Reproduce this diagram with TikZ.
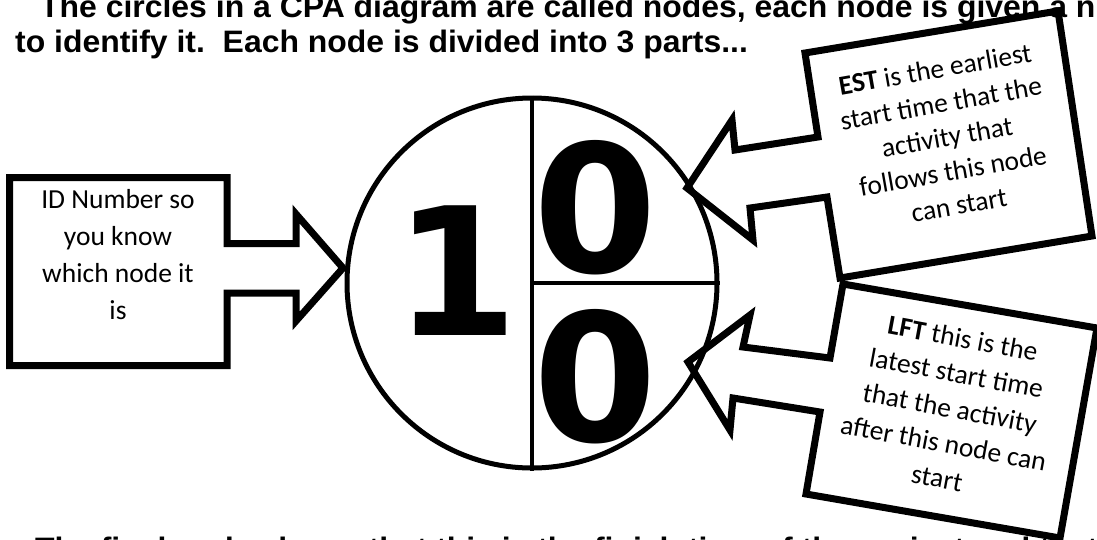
\documentclass[tikz,border=0pt]{standalone}
\usepackage{fontspec}
\setmainfont{Carlito}
\newfontfamily\titlefont[FakeStretch=1.03]{Liberation Sans}
\newfontfamily\digitfont{DejaVu Sans}
\begin{document}
\begin{tikzpicture}[x=1pt,y=-1pt,
  callout/.style={draw=black, line width=7pt, line join=miter, miter limit=10},
  ctext/.style={font=\fontsize{27.5}{34.5}\selectfont, align=center, inner sep=0pt},
  title/.style={font=\titlefont\bfseries\fontsize{31}{31}\selectfont, anchor=base west, inner sep=0pt},
  digit/.style={font=\digitfont\bfseries\fontsize{178}{178}\selectfont, inner sep=0pt},
  divider/.style={line width=4.5pt}]
\useasboundingbox (0,0) rectangle (1097,539);
\clip (0,0) rectangle (1097,539);
% titles
\node[title] (t1) at (40,17) {The circles in a CPA diagram are called nodes, each node is given a number};
\node[title] (t2) at (15,52) {to identify it.\ \ Each node is divided into 3 parts...};
\node[title] (t3) at (35,559.5) {The final node shows that this is the finish time of the project and that the LFT};
% node circle
\node[draw, circle, line width=5pt, minimum size=370pt, inner sep=0pt] (nd) at (532,283) {};
\draw[divider] (nd.north) -- (nd.south);
\draw[divider] (nd.center) -- (nd.east);
\node[digit] (id) at (456,271) {1};
\node[digit] (est) at (595,208) {0};
\node[digit] (lft) at (595,377) {0};
% left callout
\draw[callout] (9.5,177.5) -- (227,177.5) -- (227,243.5) -- (296,243.5) -- (296,214) -- (343,268)
  -- (296,321) -- (296,293) -- (227,293) -- (227,365.5) -- (9.5,365.5) -- cycle;
\node[ctext, font=\fontsize{27.5}{37}\selectfont] (idtext) at (118,255) {ID Number so\\you know\\which node it\\is};
% EST callout
\draw[callout] (805,53) -- (1058,11) -- (1092,236) -- (840,278) -- (827,197) -- (750,208) -- (753,240)
  -- (687,188) -- (732,120) -- (735,150) -- (818,137) -- cycle;
\node[ctext, rotate=10] (esttext) at (947,137) {\textbf{EST} is the earliest\\start time that the\\activity that\\follows this node\\can start};
% LFT callout
\draw[callout] (843,284) -- (1097,328) -- (1060,538) -- (806,494) -- (820,412) -- (733,398) -- (730,430)
  -- (688,362) -- (750,315) -- (743,347) -- (830,358) -- cycle;
\node[ctext, rotate=-10.5, font=\fontsize{27.5}{35.5}\selectfont] (lfttext) at (950,408) {\textbf{LFT} this is the\\latest start time\\that the activity\\after this node can\\start};
\end{tikzpicture}
\end{document}
